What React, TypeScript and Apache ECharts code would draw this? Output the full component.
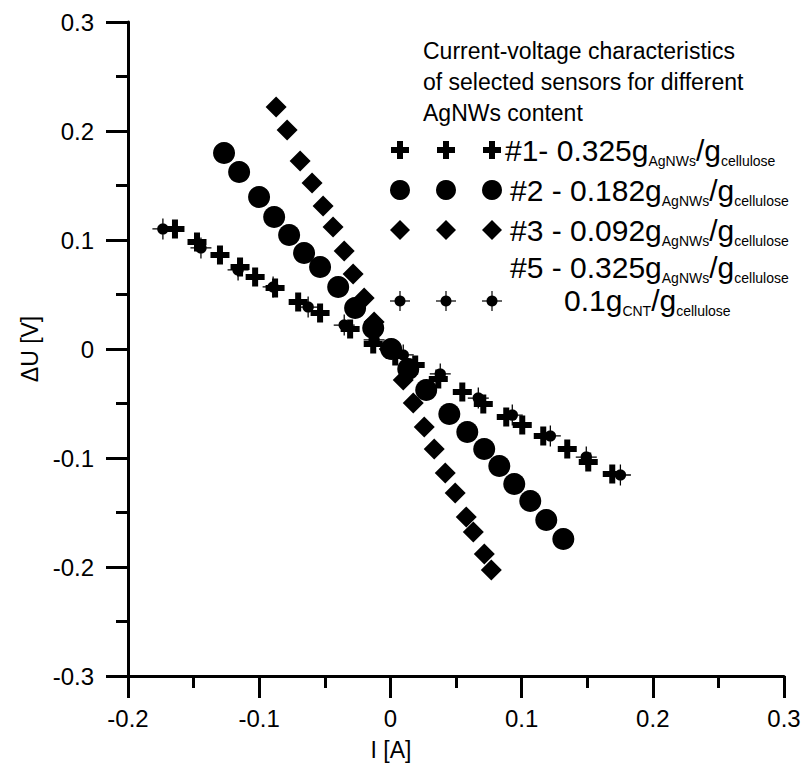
import React, { useEffect, useRef } from 'react';
import * as echarts from 'echarts';

const FONT = '"Liberation Sans", Arial, Helvetica, sans-serif';

// #1 - 0.325 g AgNWs / g cellulose (plus)
const s1I = [-0.1642, -0.1474, -0.1299, -0.1146, -0.1031, -0.0879, -0.0703, -0.0536, -0.0307, -0.0131, 0.0037, 0.0189, 0.0365, 0.0548, 0.0708, 0.0883, 0.1005, 0.1165, 0.1348, 0.1508, 0.1691];
const s1U = [0.1101, 0.0982, 0.0862, 0.0752, 0.0661, 0.056, 0.0431, 0.033, 0.0183, 0.0046, -0.0064, -0.0147, -0.0275, -0.0394, -0.0505, -0.0624, -0.0697, -0.0798, -0.0917, -0.1037, -0.1147];

// #2 - 0.182 g AgNWs / g cellulose (circle)
const s2I = [-0.1268, -0.1153, -0.1001, -0.0886, -0.0772, -0.0658, -0.0536, -0.0398, -0.0269, -0.0131, 0.0006, 0.0136, 0.0273, 0.0449, 0.0586, 0.0715, 0.083, 0.0944, 0.1066, 0.1188, 0.1318];
const s2U = [0.1798, 0.1624, 0.1394, 0.1211, 0.1046, 0.0881, 0.0752, 0.0569, 0.0376, 0.0193, 0.0, -0.0183, -0.0376, -0.0596, -0.0761, -0.0917, -0.1073, -0.1239, -0.1394, -0.1569, -0.1743];

// #3 - 0.092 g AgNWs / g cellulose (diamond)
const s3I = [-0.0871, -0.0787, -0.0688, -0.0597, -0.0513, -0.0437, -0.0352, -0.0284, -0.02, -0.0124, -0.0009, 0.0098, 0.0174, 0.0258, 0.0334, 0.0418, 0.0494, 0.0578, 0.0632, 0.0716, 0.0769];
const s3U = [0.222, 0.2009, 0.1725, 0.1523, 0.1312, 0.1119, 0.0899, 0.0688, 0.0468, 0.0248, 0.0, -0.0284, -0.0495, -0.0716, -0.0917, -0.1138, -0.1321, -0.1541, -0.1679, -0.1881, -0.2028];

// #5 - 0.325 g AgNWs / g cellulose, 0.1 g CNT / g cellulose (dot with error bars)
const s5I = [-0.1734, -0.1444, -0.1161, -0.0894, -0.0627, -0.0352, -0.0124, 0.0098, 0.038, 0.067, 0.0929, 0.1219, 0.1493, 0.1753];
const s5U = [0.1101, 0.0927, 0.0725, 0.0569, 0.0385, 0.022, 0.0083, -0.0055, -0.0229, -0.045, -0.0606, -0.0798, -0.0991, -0.1156];

const titleLines = ['Current-voltage characteristics', 'of selected sensors for different', 'AgNWs content'];
const entries = [
  { label: '#1- 0.325g', sub1: 'AgNWs', mid: '/g', sub2: 'cellulose' },
  { label: '#2 - 0.182g', sub1: 'AgNWs', mid: '/g', sub2: 'cellulose' },
  { label: '#3 - 0.092g', sub1: 'AgNWs', mid: '/g', sub2: 'cellulose' },
  { label: '#5 - 0.325g', sub1: 'AgNWs', mid: '/g', sub2: 'cellulose' },
];
const entry5b = { label: '0.1g', sub1: 'CNT', mid: '/g', sub2: 'cellulose' };

const PLUS = 'path://M6.5 0H12.5V6.5H19V12.5H12.5V19H6.5V12.5H0V6.5H6.5Z';
const DOT = 'path://M0 9.4H20V10.6H0Z M9.4 0H10.6V20H9.4Z M4.5 10A5.5 5.5 0 1 1 15.5 10A5.5 5.5 0 1 1 4.5 10Z';

const zip = (a: number[], b: number[]) => a.map((v, i) => [v, b[i]]);

function legendSymbol(kind: string, cx: number, cy: number): any[] {
  const st = { fill: '#000' };
  if (kind === 'plus') {
    const h = 9, a = 3;
    return [{ type: 'polygon', shape: { points: [[cx - a, cy - h], [cx + a, cy - h], [cx + a, cy - a], [cx + h, cy - a], [cx + h, cy + a], [cx + a, cy + a], [cx + a, cy + h], [cx - a, cy + h], [cx - a, cy + a], [cx - h, cy + a], [cx - h, cy - a], [cx - a, cy - a]] }, style: st }];
  }
  if (kind === 'circle') return [{ type: 'circle', shape: { cx, cy, r: 10 }, style: st }];
  if (kind === 'diamond') {
    const h = 10;
    return [{ type: 'polygon', shape: { points: [[cx, cy - h], [cx + h, cy], [cx, cy + h], [cx - h, cy]] }, style: st }];
  }
  return [
    { type: 'line', shape: { x1: cx - 10, y1: cy, x2: cx + 10, y2: cy }, style: { stroke: '#000', lineWidth: 1.2 } },
    { type: 'line', shape: { x1: cx, y1: cy - 10, x2: cx, y2: cy + 10 }, style: { stroke: '#000', lineWidth: 1.2 } },
    { type: 'circle', shape: { cx, cy, r: 5.5 }, style: st },
  ];
}

const rich = {
  m: { fontSize: 30, fontFamily: FONT, fill: '#000', lineHeight: 36 },
  s: { fontSize: 14, fontFamily: FONT, fill: '#000', lineHeight: 16, verticalAlign: 'bottom' },
  t: { fontSize: 14, fontFamily: FONT, fill: '#000', lineHeight: 10, verticalAlign: 'bottom' },
};

function entryText(e: any, x: number, cy: number, low = false) {
  const sub = low ? 't' : 's';
  return {
    type: 'text',
    x,
    y: cy - 18,
    style: {
      text: `{m|${e.label}}{${sub}|${e.sub1}}{m|${e.mid}}{${sub}|${e.sub2}}`,
      rich,
      verticalAlign: 'top',
    },
  };
}

export default function App() {
  const ref = useRef<HTMLDivElement>(null);
  useEffect(() => {
    if (!ref.current) return;
    const chart = echarts.init(ref.current, undefined, { renderer: 'svg' });

    const rowY = [150, 190, 230];
    const kinds = ['plus', 'circle', 'diamond'];
    const symX = [400, 446, 492];
    const graphics: any[] = [];
    graphics.push({
      type: 'text',
      x: 423,
      y: 35,
      style: { text: titleLines.join('\n'), fontSize: 23, fontFamily: FONT, fill: '#000', lineHeight: 31 },
    });
    kinds.forEach((k, i) => {
      symX.forEach((sx) => graphics.push(...legendSymbol(k, sx, rowY[i])));
    });
    symX.forEach((sx) => graphics.push(...legendSymbol('dot', sx, 301)));
    graphics.push(entryText(entries[0], 505, 150));
    graphics.push(entryText(entries[1], 510, 190));
    graphics.push(entryText(entries[2], 510, 230));
    graphics.push(entryText(entries[3], 510, 267));
    graphics.push(entryText(entry5b, 564, 300, true));

    const axisCommon = {
      type: 'value',
      interval: 0.1,
      splitLine: { show: false },
      axisLine: { show: true, onZero: false, lineStyle: { color: '#000', width: 3 } },
      axisTick: { show: true, inside: false, length: 22, lineStyle: { color: '#000', width: 3 } },
      minorTick: { show: true, splitNumber: 2, length: 12, lineStyle: { color: '#000', width: 3 } },
      minorSplitLine: { show: false },
      nameLocation: 'middle',
      nameTextStyle: { fontSize: 23, fontFamily: FONT, color: '#000' },
      axisLabel: {
        fontSize: 24,
        fontFamily: FONT,
        color: '#000',
        formatter: (v: number) => (Math.abs(v) < 1e-9 ? '0' : v.toFixed(1)),
      },
    };

    const sym = { color: '#000', opacity: 1 };
    chart.setOption({
      animation: false,
      backgroundColor: '#fff',
      grid: { left: 128, right: 21, top: 22, bottom: 98, containLabel: false },
      xAxis: {
        ...axisCommon, min: -0.2, max: 0.3, name: 'I [A]', nameGap: 62,
        nameTextStyle: { ...axisCommon.nameTextStyle, padding: [0, 130, 0, 0] },
        axisLabel: { ...axisCommon.axisLabel, margin: 30 },
      },
      yAxis: { ...axisCommon, min: -0.3, max: 0.3, name: 'ΔU [V]', nameGap: 84, axisLabel: { ...axisCommon.axisLabel, margin: 34 } },
      series: [
        { type: 'scatter', name: '#1', data: zip(s1I, s1U), symbol: PLUS, symbolSize: 19, itemStyle: sym },
        { type: 'scatter', name: '#2', data: zip(s2I, s2U), symbol: 'circle', symbolSize: 22, itemStyle: sym },
        { type: 'scatter', name: '#3', data: zip(s3I, s3U), symbol: 'diamond', symbolSize: 21, itemStyle: sym },
        { type: 'scatter', name: '#5', data: zip(s5I, s5U), symbol: DOT, symbolSize: 21, itemStyle: sym },
      ],
      graphic: graphics,
    });
    return () => chart.dispose();
  }, []);
  return <div ref={ref} style={{ position: 'absolute', left: 0, top: 0, width: 805, height: 774, background: '#fff' }} />;
}
